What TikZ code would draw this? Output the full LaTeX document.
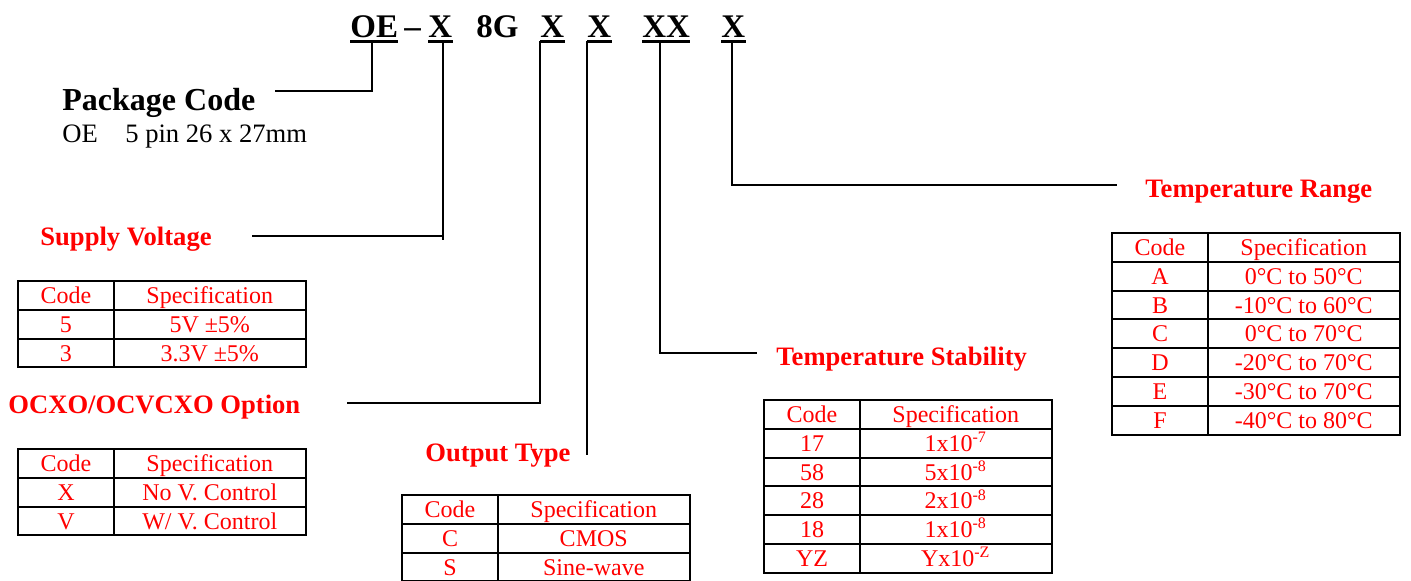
\documentclass[tikz,border=0pt]{standalone}
\usepackage{fontspec}
\setmainfont{Liberation Serif}
\usetikzlibrary{matrix}

\tikzset{
  code/.style={font=\fontsize{16.5}{20}\selectfont\bfseries, anchor=base west, inner xsep=0pt, inner ysep=2pt, text depth=0pt},
  uline/.style={line width=1.3pt},
  link/.style={line width=0.85pt},
  head/.style={font=\fontsize{13.3}{16}\selectfont\bfseries, text=red, anchor=base west, inner sep=0pt},
  cell/.style={draw, line width=1pt, text=red, font=\fontsize{12}{14}\selectfont, inner sep=0pt, outer sep=0pt, minimum height=14.4pt, text height=8pt, text depth=0pt},
  spec/.style={matrix of nodes, anchor=north west, inner sep=0pt, outer sep=0pt, column sep=-1pt, row sep=-1pt, nodes={cell},
    column 1/.style={nodes={minimum width=48pt}}, column 2/.style={nodes={minimum width=95.75pt}}}
}

\begin{document}
\begin{tikzpicture}[x=0.5pt,y=-0.5pt]
\useasboundingbox (0,0) rectangle (1411,580);

%part number
\node[code] (oe) at (350,37) {OE};
\node[code] (dash) at (404,37) {–};
\node[code] (x1) at (428,37) {X};
\node[code] (eightg) at (476,37) {8G};
\node[code] (x3) at (540,37) {X};
\node[code] (x4) at (587,37) {X};
\node[code] (xx) at (642,37) {XX};
\node[code] (x6) at (721,37) {X};
%underlines
\foreach \n in {oe,x1,x3,x4,xx,x6}
  \draw[uline] (\n.south west) -- (\n.south east);

%headings
\node[head, text=black, font=\fontsize{16}{19}\selectfont\bfseries] (pkg) at (62,110) {Package Code};
\node[anchor=base west, inner sep=0pt, font=\fontsize{13.3}{16}\selectfont] (pkgsub) at (62,142) {OE\hspace{13.75pt}5 pin 26 x 27mm};
\node[head] (sv) at (40,245) {Supply Voltage};
\node[head] (oc) at (8,413) {OCXO/OCVCXO Option};
\node[head] (ot) at (425,461) {Output Type};
\node[head] (ts) at (776,365) {Temperature Stability};
\node[head] (tr) at (1145,197) {Temperature Range};

%connector ends
\coordinate (pkgend) at (275,90.7);
\coordinate (svend) at (252,236);
\coordinate (ocend) at (347,403);
\coordinate (otend) at (587,455);
\coordinate (tsend) at (757,353);
\coordinate (trend) at (1117,185);

%connectors
\draw[link] ([xshift=11pt]oe.south west) |- (pkgend);
\draw[link] ([xshift=7.5pt]x1.south west) coordinate (x1a) -- ([yshift=-2pt]x1a |- svend) (x1a |- svend) -- (svend);
\draw[link] (x3.south west) |- (ocend);
\draw[link] (x4.south west) -- (otend);
\draw[link] ([xshift=9pt]xx.south west) |- (tsend);
\draw[link] ([xshift=5.5pt]x6.south west) |- (trend);

%tables
\matrix[spec] (svtab) at (17,280) {
Code & Specification\\
5 & 5V ±5\%\\
3 & 3.3V ±5\%\\
};
\matrix[spec] (octab) at (17,448) {
Code & Specification\\
X & No V. Control\\
V & W/ V. Control\\
};
\matrix[spec] (ottab) at (401,494) {
Code & Specification\\
C & CMOS\\
S & Sine-wave\\
};
\matrix[spec] (tstab) at (763,399) {
Code & Specification\\
17 & 1x10\textsuperscript{-7}\\
58 & 5x10\textsuperscript{-8}\\
28 & 2x10\textsuperscript{-8}\\
18 & 1x10\textsuperscript{-8}\\
YZ & Yx10\textsuperscript{-Z}\\
};
\matrix[spec] (trtab) at (1111,232) {
Code & Specification\\
A & 0°C to 50°C\\
B & -10°C to 60°C\\
C & 0°C to 70°C\\
D & -20°C to 70°C\\
E & -30°C to 70°C\\
F & -40°C to 80°C\\
};
\end{tikzpicture}
\end{document}
